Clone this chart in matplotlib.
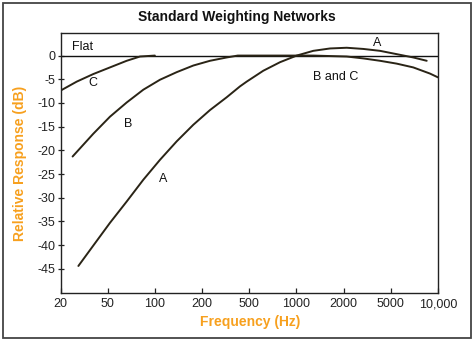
import numpy as np
import matplotlib
matplotlib.use("Agg")
import matplotlib.pyplot as plt
from matplotlib.patches import Rectangle

plt.rcParams['font.family'] = ['Liberation Sans', 'DejaVu Sans']

# ---- data ----
tick_hz = [20, 50, 100, 200, 500, 1000, 2000, 5000, 10000]
tick_labels = ["20", "50", "100", "200", "500", "1000", "2000", "5000", "10,000"]
y_ticks = [0, -5, -10, -15, -20, -25, -30, -35, -40, -45]

a_hz = [28.3, 37.8, 51.7, 66.1, 84.4, 107.8, 137.8, 175.9, 233.3, 322.6, 417.7, 475.7,
        614.5, 785.5, 1004, 1281, 1637, 2123, 2930, 4052, 5450, 6956, 8470]
a_db = [-44.4, -40.1, -35.3, -30.8, -26.2, -22.0, -18.1, -14.6, -11.5, -8.8, -6.5, -5.5,
        -3.2, -1.4, 0.0, 1.0, 1.5, 1.65, 1.4, 1.0, 0.3, -0.4, -1.1]

b_hz = [25.3, 37.8, 51.7, 66.1, 84.4, 107.8, 137.8, 175.9, 233.3, 322.6, 400, 1000,
        1281, 1637, 2123, 2930, 4052, 5450, 6956, 8890, 10000]
b_db = [-21.3, -16.5, -12.9, -9.9, -7.2, -5.1, -3.5, -2.1, -1.1, -0.4, 0.0, 0.0,
        0.0, -0.1, -0.2, -0.6, -1.1, -1.7, -2.5, -3.8, -4.6]

c_hz = [20, 27.4, 37.8, 51.7, 66.1, 80.4, 100]
c_db = [-7.4, -5.5, -3.9, -2.5, -1.1, -0.2, 0.0]

flat_hz = [20, 10000]
flat_db = [0, 0]

# ---- scale: evenly spaced labelled frequencies ----
logt = np.log10(np.array(tick_hz, dtype=float))
idx = np.arange(len(tick_hz), dtype=float)

def fwd(f):
    f = np.asarray(f, dtype=float)
    return np.interp(np.log10(np.clip(f, 1e-9, None)), logt, idx)

def inv(i):
    return 10 ** np.interp(np.asarray(i, dtype=float), idx, logt)

fig = plt.figure(figsize=(4.74, 3.41), dpi=100)
ax = fig.add_axes([60.5 / 474, 1 - 292.5 / 341, (438 - 60.5) / 474, (292.5 - 33.3) / 341])
ax.set_xscale('function', functions=(fwd, inv))
ax.set_xlim(20, 10000)
ax.set_ylim(-50, 4.7)

line_col = '#2a2416'
ax.plot(flat_hz, flat_db, color='#111111', lw=1.0)
for xs, ys in ((c_hz, c_db), (b_hz, b_db), (a_hz, a_db)):
    ax.plot(xs, ys, color=line_col, lw=1.4, solid_capstyle='round', solid_joinstyle='round')

ax.set_xticks(tick_hz)
ax.set_xticklabels(tick_labels)
ax.xaxis.set_minor_locator(matplotlib.ticker.NullLocator())
ax.set_yticks(y_ticks)
ax.set_yticklabels([str(v) for v in y_ticks])
ax.tick_params(axis='x', direction='in', length=3.6, width=0.9, labelsize=9, pad=4, colors='#222222')
ax.tick_params(axis='y', direction='inout', length=4.5, width=0.9, labelsize=9, pad=1.5, colors='#222222')
for s in ax.spines.values():
    s.set_color('#222222')
    s.set_linewidth(1.0)

txt = dict(fontsize=9, color='#111111', ha='center', va='center')
ax.text(25, 1.8, "Flat", fontsize=9, color='#111111', ha='left', va='center')
ax.text(37.6, -5.8, "C", **txt)
ax.text(68, -14.4, "B", **txt)
ax.text(113, -26.0, "A", **txt)
ax.text(3840, 2.6, "A", **txt)
ax.text(1790, -4.5, "B and C", **txt)

orange = '#f7a01e'
fig.text(237 / 474, 1 - 17 / 341, "Standard Weighting Networks", fontsize=10, fontweight='bold',
         ha='center', va='center', color='#111111')
fig.text(250 / 474, 1 - 322 / 341, "Frequency (Hz)", fontsize=10, fontweight='bold',
         ha='center', va='center', color=orange)
fig.text(20 / 474, 1 - 163 / 341, "Relative Response (dB)", fontsize=10, fontweight='bold',
         ha='center', va='center', rotation=90, color=orange)

fig.patches.append(Rectangle((3 / 474, 1 - 337.5 / 341), (471 - 3) / 474, (337.5 - 2.5) / 341,
                             transform=fig.transFigure, fill=False, edgecolor='#444444', lw=1.3))

fig.savefig("out.png", dpi=100)
